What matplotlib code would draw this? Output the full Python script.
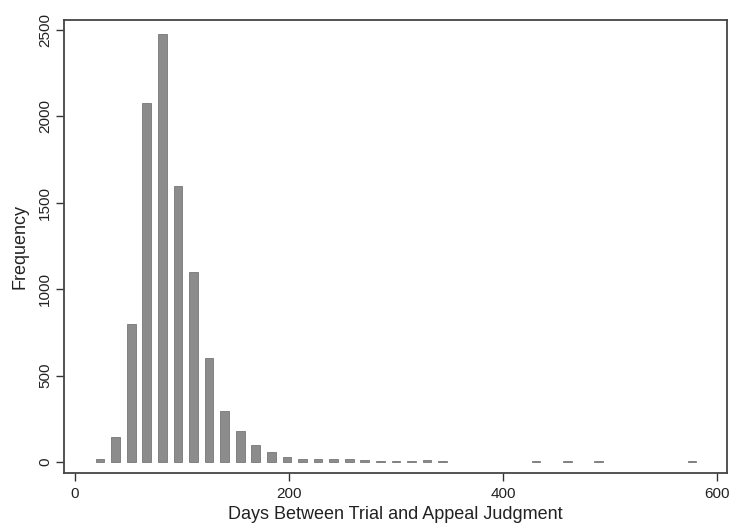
import matplotlib
matplotlib.use("Agg")
import matplotlib.pyplot as plt
import numpy as np

plt.rcParams['font.family'] = ['Liberation Sans', 'DejaVu Sans']

# histogram bins (days)
bin_start = 23.4
bin_width = 14.55
counts = [17, 145, 800, 2075, 2475, 1595, 1100, 600, 295, 178,
          100, 58, 29, 15, 15, 16, 15, 11, 6, 6,
          5, 11, 5, 0, 0, 0, 0, 0, 4, 0,
          4, 0, 4, 0, 0, 0, 0, 0, 4]
xticks = [0, 200, 400, 600]
yticks = [0, 500, 1000, 1500, 2000, 2500]

centers = bin_start + bin_width * np.arange(len(counts))
counts = np.array(counts)
keep = counts > 0  # empty bins draw nothing

fig = plt.figure(figsize=(7.32, 5.26), dpi=100)
ax = fig.add_axes([0.0874, 0.1008, 0.9056, 0.8612])

ax.bar(centers[keep], counts[keep], width=bin_width * 0.56, color='#8c8c8c',
       edgecolor='#777777', linewidth=0.6)

ax.set_xlim(-10.3, 609)
ax.set_ylim(-64, 2558)
ax.set_xticks(xticks)
ax.set_yticks(yticks)
ax.tick_params(axis='both', direction='out', length=5.5, width=1.0,
               color='#333333', labelsize=11, labelcolor='#222222')
ax.tick_params(axis='x', pad=4.5)
ax.tick_params(axis='y', pad=3)
for lab in ax.get_yticklabels():
    lab.set_rotation(90)
    lab.set_va('center')

for s in ax.spines.values():
    s.set_color('#444444')
    s.set_linewidth(1.3)

ax.set_xlabel("Days Between Trial and Appeal Judgment", fontsize=13,
              color='#222222')
ax.set_ylabel("Frequency", fontsize=13, color='#222222')
ax.xaxis.set_label_coords(0.5, -0.072)
ax.yaxis.set_label_coords(-0.054, 0.5)

fig.savefig("out.png", dpi=100)
